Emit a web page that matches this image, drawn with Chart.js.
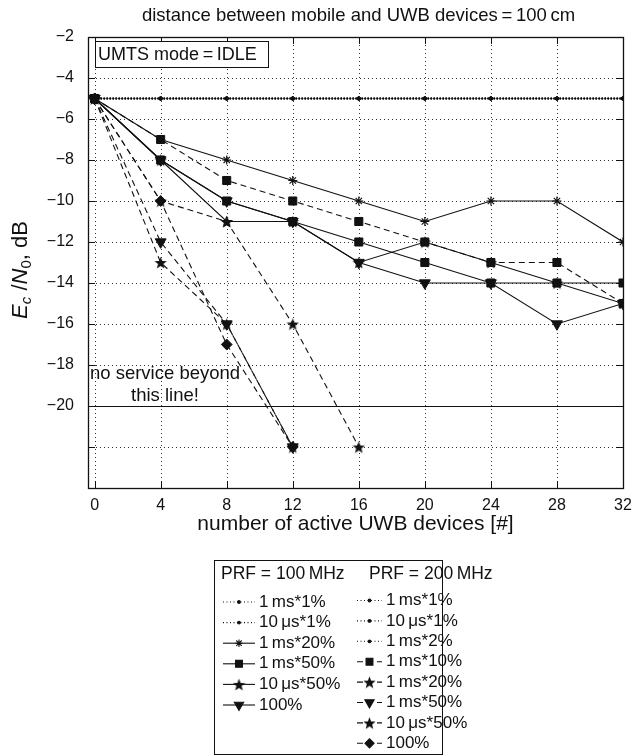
<!DOCTYPE html>
<html>
<head>
<meta charset="utf-8">
<title>Ec/N0 versus number of active UWB devices</title>
<script src="https://cdn.jsdelivr.net/npm/chart.js@4.4.1/dist/chart.umd.min.js"></script>
<style>
  html, body { margin: 0; padding: 0; background: #fff; }
  #wrap { width: 635px; height: 755px; }
</style>
</head>
<body>
<div id="wrap"><canvas id="ecno" width="635" height="755"></canvas></div>
<script>
// number of active UWB devices
const devices = [0, 4, 8, 12, 16, 20, 24, 28, 32];
const yTicks = [-2, -4, -6, -8, -10, -12, -14, -16, -18, -20, -22, -24];
const yLabelled = [-2, -4, -6, -8, -10, -12, -14, -16, -18, -20];
const serviceLimit = -20;

// PRF = 100 MHz, Ec/N0 [dB]
const p100_1ms1   = [-5, -5, -5, -5, -5, -5, -5, -5, -5];
const p100_10us1  = [-5, -5, -5, -5, -5, -5, -5, -5, -5];
const p100_1ms20  = [-5, -7, -8, -9, -10, -11, -10, -10, -12];
const p100_1ms50  = [-5, -8, -10, -11, -12, -13, -14, -14, -14];
const p100_10us50 = [-5, -8, -11, -11, -13, -12, -13, -14, -15];
const p100_100    = [-5, -8, -10, -11, -13, -14, -14, -16, -15];

// PRF = 200 MHz, Ec/N0 [dB] (short series stop once the link is lost)
const p200_1ms1   = [-5, -5, -5, -5, -5, -5, -5, -5, -5];
const p200_10us1  = [-5, -5, -5, -5, -5, -5, -5, -5, -5];
const p200_1ms2   = [-5, -5, -5, -5, -5, -5, -5, -5, -5];
const p200_1ms10  = [-5, -7, -9, -10, -11, -12, -13, -13, -15];
const p200_1ms20  = [-5, -13, -16, -22];
const p200_1ms50  = [-5, -12, -16, -22];
const p200_10us50 = [-5, -10, -11, -16, -22];
const p200_100    = [-5, -10, -17, -22];

const FONT = "'Liberation Sans', Arial, Helvetica, sans-serif";
const INK = '#111';

// filled five-pointed star used as a marker
function starImage(size) {
    const c = document.createElement('canvas');
    c.width = c.height = size;
    const g = c.getContext('2d');
    const cx = size / 2, cy = size / 2 + size * 0.06, R = size / 2, r = R * 0.42;
    g.beginPath();
    for (let i = 0; i < 10; i++) {
        const a = -Math.PI / 2 + i * Math.PI / 5;
        const rr = i % 2 ? r : R;
        g.lineTo(cx + rr * Math.cos(a), cy + rr * Math.sin(a));
    }
    g.closePath();
    g.fillStyle = INK;
    g.fill();
    return c;
}
const star5 = starImage(13);

const marks = {
    dot:      { pointStyle: 'circle', radius: 1.6, rotation: 0, borderWidth: 1 },
    asterisk: { pointStyle: 'star', radius: 4.5, rotation: 0, borderWidth: 1.2 },
    square:   { pointStyle: 'rect', radius: 5.7, rotation: 0, borderWidth: 1 },
    star:     { pointStyle: star5, radius: 6, rotation: 0, borderWidth: 1 },
    triangle: { pointStyle: 'triangle', radius: 6.3, rotation: 180, borderWidth: 1 },
    diamond:  { pointStyle: 'rectRot', radius: 5.4, rotation: 0, borderWidth: 1 }
};
const dashes = { solid: [], dashed: [6, 4], dotted: [1.5, 1.5] };
const widths = { solid: 1.1, dashed: 1.1, dotted: 1.5 };

const series = [
    { prf: 100, label: '1\u2009ms*1%',     values: p100_1ms1,   line: 'dotted', mark: 'dot' },
    { prf: 100, label: '10\u2009\u03bcs*1%',  values: p100_10us1,  line: 'dotted', mark: 'dot' },
    { prf: 100, label: '1\u2009ms*20%',    values: p100_1ms20,  line: 'solid',  mark: 'asterisk' },
    { prf: 100, label: '1\u2009ms*50%',    values: p100_1ms50,  line: 'solid',  mark: 'square' },
    { prf: 100, label: '10\u2009\u03bcs*50%', values: p100_10us50, line: 'solid',  mark: 'star' },
    { prf: 100, label: '100%',             values: p100_100,    line: 'solid',  mark: 'triangle' },
    { prf: 200, label: '1\u2009ms*1%',     values: p200_1ms1,   line: 'dotted', mark: 'dot' },
    { prf: 200, label: '10\u2009\u03bcs*1%',  values: p200_10us1,  line: 'dotted', mark: 'dot' },
    { prf: 200, label: '1\u2009ms*2%',     values: p200_1ms2,   line: 'dotted', mark: 'dot' },
    { prf: 200, label: '1\u2009ms*10%',    values: p200_1ms10,  line: 'dashed', mark: 'square' },
    { prf: 200, label: '1\u2009ms*20%',    values: p200_1ms20,  line: 'dashed', mark: 'star' },
    { prf: 200, label: '1\u2009ms*50%',    values: p200_1ms50,  line: 'dashed', mark: 'triangle' },
    { prf: 200, label: '10\u2009\u03bcs*50%', values: p200_10us50, line: 'dashed', mark: 'star' },
    { prf: 200, label: '100%',             values: p200_100,    line: 'dashed', mark: 'diamond' }
];

const datasets = series.map((s, i) => {
    const m = marks[s.mark];
    return {
        label: s.label,
        prf: s.prf,
        data: s.values.map((v, k) => ({ x: devices[k], y: v })),
        borderColor: INK,
        backgroundColor: INK,
        borderWidth: widths[s.line],
        borderDash: dashes[s.line],
        pointStyle: m.pointStyle,
        pointRadius: m.radius,
        pointRotation: m.rotation,
        pointBorderWidth: m.borderWidth,
        pointBackgroundColor: INK,
        pointBorderColor: INK,
        tension: 0,
        fill: false,
        order: -i   // later series sit on top
    };
});

// dotted grid under the data
const dottedGrid = {
    id: 'dottedGrid',
    beforeDatasetsDraw(chart) {
        const { ctx, chartArea: a, scales: { x, y } } = chart;
        ctx.save();
        ctx.strokeStyle = '#333';
        ctx.lineWidth = 1;
        ctx.setLineDash([1, 3]);
        ctx.beginPath();
        devices.forEach(v => {
            const px = Math.round(x.getPixelForValue(v)) + 0.5;
            ctx.moveTo(px, a.top); ctx.lineTo(px, a.bottom);
        });
        yTicks.forEach(v => {
            const py = Math.round(y.getPixelForValue(v)) + 0.5;
            ctx.moveTo(a.left, py); ctx.lineTo(a.right, py);
        });
        ctx.stroke();
        ctx.restore();
    }
};

// frame, inward ticks, limit line, notes, titles and the two-column legend
const decorations = {
    id: 'decorations',
    afterDraw(chart) {
        const { ctx, chartArea: a, scales: { x, y } } = chart;
        ctx.save();
        ctx.strokeStyle = INK;
        ctx.fillStyle = INK;
        ctx.setLineDash([]);

        // no-service limit
        const yl = Math.round(y.getPixelForValue(serviceLimit)) + 0.5;
        ctx.lineWidth = 1.1;
        ctx.beginPath();
        ctx.moveTo(a.left, yl);
        ctx.lineTo(a.right, yl);
        ctx.stroke();

        // inward tick marks on all four sides
        ctx.lineWidth = 1;
        ctx.beginPath();
        devices.forEach(v => {
            const px = Math.round(x.getPixelForValue(v)) + 0.5;
            ctx.moveTo(px, a.bottom); ctx.lineTo(px, a.bottom - 7);
            ctx.moveTo(px, a.top); ctx.lineTo(px, a.top + 7);
        });
        yTicks.forEach(v => {
            const py = Math.round(y.getPixelForValue(v)) + 0.5;
            ctx.moveTo(a.left, py); ctx.lineTo(a.left + 7, py);
            ctx.moveTo(a.right, py); ctx.lineTo(a.right - 7, py);
        });
        ctx.stroke();

        // axes box
        ctx.lineWidth = 1.3;
        ctx.strokeRect(Math.round(a.left) + 0.5, Math.round(a.top) + 0.5,
                       Math.round(a.width), Math.round(a.height));

        // mode note
        ctx.fillStyle = '#fff';
        ctx.fillRect(a.left + 7.5, a.top + 4.5, 173, 26);
        ctx.lineWidth = 1;
        ctx.strokeRect(a.left + 7.5, a.top + 4.5, 173, 26);
        ctx.fillStyle = INK;
        ctx.font = '18px ' + FONT;
        ctx.textBaseline = 'middle';
        ctx.textAlign = 'left';
        ctx.fillText('UMTS mode\u2009=\u2009IDLE', a.left + 10, a.top + 18);

        // limit note
        ctx.textAlign = 'center';
        ctx.font = '18.5px ' + FONT;
        ctx.fillText('no service beyond', 165, y.getPixelForValue(-18.45));
        ctx.fillText('this line!', 165, y.getPixelForValue(-19.5));

        // titles
        const cx = (a.left + a.right) / 2;
        ctx.font = '18.5px ' + FONT;
        ctx.fillText('distance between mobile and UWB devices\u2009=\u2009100\u2009cm', cx + 3, 16);
        ctx.font = '21px ' + FONT;
        ctx.fillText('number of active UWB devices [#]', cx, 524);

        // y title: E_c / N_0, dB
        const parts = [
            { t: 'E', f: 'italic 22px ' + FONT, dy: 0 },
            { t: 'c', f: 'italic 15px ' + FONT, dy: 6 },
            { t: ' /', f: '22px ' + FONT, dy: 0 },
            { t: 'N', f: 'italic 22px ' + FONT, dy: 0 },
            { t: '0', f: '15px ' + FONT, dy: 6 },
            { t: ', dB', f: '22px ' + FONT, dy: 0 }
        ];
        let total = 0;
        parts.forEach(p => { ctx.font = p.f; p.w = ctx.measureText(p.t).width; total += p.w; });
        ctx.save();
        ctx.translate(21, 270);
        ctx.rotate(-Math.PI / 2);
        ctx.textAlign = 'left';
        ctx.textBaseline = 'middle';
        let px = -total / 2;
        parts.forEach(p => { ctx.font = p.f; ctx.fillText(p.t, px, p.dy); px += p.w; });
        ctx.restore();

        // legend
        const box = { left: 214.5, top: 560.5, right: 442.5, bottom: 754.5 };
        ctx.lineWidth = 1;
        ctx.strokeRect(box.left, box.top, box.right - box.left, box.bottom - box.top);
        ctx.font = '17.5px ' + FONT;
        ctx.textAlign = 'left';
        ctx.textBaseline = 'middle';
        ctx.fillText('PRF = 100\u2009MHz', 221, 574);
        ctx.fillText('PRF = 200\u2009MHz', 369, 574);

        const cols = {
            100: { x0: 223, x1: 255, tx: 259, y0: 602, step: 20.6 },
            200: { x0: 357, x1: 382, tx: 386, y0: 600.5, step: 20.4 }
        };
        const rows = { 100: 0, 200: 0 };
        chart.data.datasets.forEach(ds => {
            const c = cols[ds.prf];
            const ry = c.y0 + rows[ds.prf]++ * c.step;
            ctx.strokeStyle = ds.borderColor;
            ctx.fillStyle = ds.backgroundColor;
            ctx.lineWidth = Math.min(ds.borderWidth, 1.1);
            ctx.setLineDash(ds.borderDash.length === 2 && ds.borderDash[0] < 2 ? [1, 2.5] : ds.borderDash);
            ctx.beginPath();
            ctx.moveTo(c.x0, ry);
            ctx.lineTo(c.x1, ry);
            ctx.stroke();
            ctx.setLineDash([]);
            Chart.helpers.drawPoint(ctx, {
                pointStyle: ds.pointStyle,
                radius: ds.pointRadius * 0.85,
                rotation: ds.pointRotation,
                borderWidth: ds.pointBorderWidth
            }, (c.x0 + c.x1) / 2, ry);
            ctx.fillStyle = INK;
            ctx.font = '17px ' + FONT;
            ctx.fillText(ds.label, c.tx, ry);
        });
        ctx.restore();
    }
};

Chart.defaults.font.family = FONT;
Chart.defaults.color = INK;

new Chart(document.getElementById('ecno'), {
    type: 'line',
    data: { datasets },
    options: {
        responsive: false,
        animation: false,
        layout: { padding: { left: 0, right: 12, top: 37, bottom: 237 } },
        plugins: { legend: { display: false }, tooltip: { enabled: false } },
        scales: {
            x: {
                type: 'linear',
                min: -0.4,
                max: 32,
                afterBuildTicks: s => { s.ticks = devices.map(v => ({ value: v })); },
                afterFit: s => { s.height = 30; s.paddingLeft = 0; s.paddingRight = 0; },
                ticks: { font: { size: 16 }, padding: 8, maxRotation: 0, autoSkip: false,
                         callback: v => String(v) },
                grid: { display: false, drawTicks: false },
                border: { display: false }
            },
            y: {
                type: 'linear',
                min: -24,
                max: -2,
                afterBuildTicks: s => { s.ticks = yTicks.map(v => ({ value: v })); },
                afterFit: s => { s.width = 88; s.paddingTop = 0; s.paddingBottom = 0; },
                ticks: { font: { size: 16 }, padding: 14, autoSkip: false,
                         callback: v => yLabelled.includes(v) ? '\u2212' + Math.abs(v) : '' },
                grid: { display: false, drawTicks: false },
                border: { display: false }
            }
        }
    },
    plugins: [dottedGrid, decorations]
});
</script>
</body>
</html>
